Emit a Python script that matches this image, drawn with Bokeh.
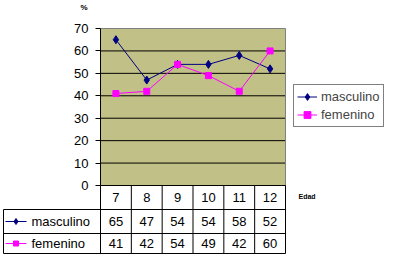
from bokeh.plotting import figure
from bokeh.models import Range1d, FixedTicker, Legend, LegendItem, LinearAxis
from bokeh.embed import file_html
from bokeh.resources import INLINE
from bokeh.core.properties import value

# ---- data ----
categories = ["7", "8", "9", "10", "11", "12"]
masculino = [65, 47, 54, 54, 58, 52]
femenino = [41, 42, 54, 49, 42, 60]
series_names = ["masculino", "femenino"]
y_ticks = [0, 10, 20, 30, 40, 50, 60, 70]
y_unit = "%"
x_title = "Edad"

# ---- style ----
NAVY = "#000080"
MAG = "#FF00FF"
OLIVE = "#C1C086"
GRAY = "#808080"
FONT = "Liberation Sans"
FS = "13px"

n = len(categories)
xs = list(range(n))
ymin, ymax = y_ticks[0], y_ticks[-1]

# ---- layout (pixels of the 394x258 canvas) ----
W, H = 394, 258
FRAME_L, FRAME_R = 100, 285     # plot area, left/right
FRAME_T, FRAME_B = 28, 185      # plot area, top/bottom
colw = (FRAME_R - FRAME_L) / n
rowpx = (FRAME_B - FRAME_T) / (ymax - ymin)


def px(xpix):
    """canvas pixel column -> x data units"""
    return -0.5 + (xpix - FRAME_L) / colw


def py(ypix):
    """canvas pixel row -> y data units"""
    return ymin + (FRAME_B - ypix) / rowpx


p = figure(width=W, height=H, output_backend="svg", toolbar_location=None,
           x_range=Range1d(px(0), px(W)), y_range=Range1d(py(H), py(0)),
           x_axis_location=None, y_axis_location=None,
           min_border_left=0, min_border_right=0, min_border_top=0, min_border_bottom=0)
p.grid.visible = False
p.outline_line_color = None
p.background_fill_color = "white"
p.border_fill_color = "white"

x_lo, x_hi = -0.5, n - 0.5

# plot area background
p.quad(left=[x_lo], right=[x_hi], bottom=[ymin], top=[ymax], fill_color=OLIVE, line_color=None)
# horizontal gridlines
p.segment(x0=[x_lo] * (len(y_ticks) - 1), y0=y_ticks[:-1], x1=[x_hi] * (len(y_ticks) - 1),
          y1=y_ticks[:-1], line_color="black", line_width=1)
# gray top & right border
p.segment(x0=[x_lo, x_hi], y0=[ymax, ymin], x1=[x_hi, x_hi], y1=[ymax, ymax],
          line_color=GRAY, line_width=1)

# y axis at the plot area's left edge
ax = LinearAxis(fixed_location=x_lo, bounds=(ymin, ymax), ticker=FixedTicker(ticks=y_ticks))
ax.axis_line_color = "black"
ax.major_tick_line_color = "black"
ax.major_tick_out = 5
ax.major_tick_in = 0
ax.minor_tick_line_color = None
ax.major_label_text_font = FONT
ax.major_label_text_font_size = FS
ax.major_label_text_color = "black"
ax.major_label_standoff = 7
p.add_layout(ax, "left")

# series
r1 = p.line(xs, masculino, line_color=NAVY, line_width=1)
m1 = p.scatter(xs, masculino, marker="diamond", size=8, fill_color=NAVY, line_color=NAVY)
r2 = p.line(xs, femenino, line_color=MAG, line_width=1)
m2 = p.scatter(xs, femenino, marker="square", size=6, fill_color=MAG, line_color=MAG)

legend = Legend(items=[LegendItem(label=series_names[0], renderers=[r1, m1]),
                       LegendItem(label=series_names[1], renderers=[r2, m2])],
                location=(293, H - 127), margin=0, padding=3, spacing=1,
                glyph_width=20, glyph_height=17, label_height=17, label_standoff=4,
                label_text_font=FONT, label_text_font_size=FS,
                border_line_color="black", border_line_width=1,
                background_fill_color="white", background_fill_alpha=1)
p.add_layout(legend, "center")

# unit label
p.text(x=[px(80)], y=[py(7)], text=[y_unit], text_font=value(FONT), text_font_size="8px",
       text_font_style="bold", text_color="black", text_align="left", text_baseline="middle")

# ---- data table below ----
rows_px = [185, 209, 233, 253]
row_lines = [py(v) for v in rows_px]
row_mid = [py((rows_px[i] + rows_px[i + 1]) / 2) for i in range(3)]
left = px(3)
# horizontal lines
p.segment(x0=[x_lo, left, left, left], y0=row_lines, x1=[x_hi] * 4, y1=row_lines,
          line_color="black", line_width=1)
# vertical lines
vx = [left] + [k - 0.5 for k in range(n + 1)]
vy0 = [row_lines[1]] + [row_lines[0]] * (n + 1)
p.segment(x0=vx, y0=vy0, x1=vx, y1=[row_lines[-1]] * len(vx), line_color="black", line_width=1)

txt = dict(text_font=value(FONT), text_font_size=FS, text_color="black",
           text_align="center", text_baseline="middle")
p.text(x=xs, y=[row_mid[0]] * n, text=categories, **txt)
p.text(x=xs, y=[row_mid[1]] * n, text=[str(v) for v in masculino], **txt)
p.text(x=xs, y=[row_mid[2]] * n, text=[str(v) for v in femenino], **txt)

# legend keys inside the table
for i, (name, col, mk, sz) in enumerate([(series_names[0], NAVY, "diamond", 6),
                                         (series_names[1], MAG, "square", 5)]):
    yy = row_mid[i + 1]
    p.segment(x0=[px(5)], y0=[yy], x1=[px(26)], y1=[yy], line_color=col, line_width=1)
    p.scatter(x=[px(15.5)], y=[yy], marker=mk, size=sz, fill_color=col, line_color=col)
    p.text(x=[px(31)], y=[yy], text=[name], text_font=value(FONT), text_font_size=FS,
           text_color="black", text_align="left", text_baseline="middle")

p.text(x=[px(298)], y=[py(196)], text=[x_title], text_font=value(FONT), text_font_size="7px",
       text_font_style="bold", text_color="black", text_align="left", text_baseline="middle")

open("out.html", "w").write(file_html(p, INLINE))
